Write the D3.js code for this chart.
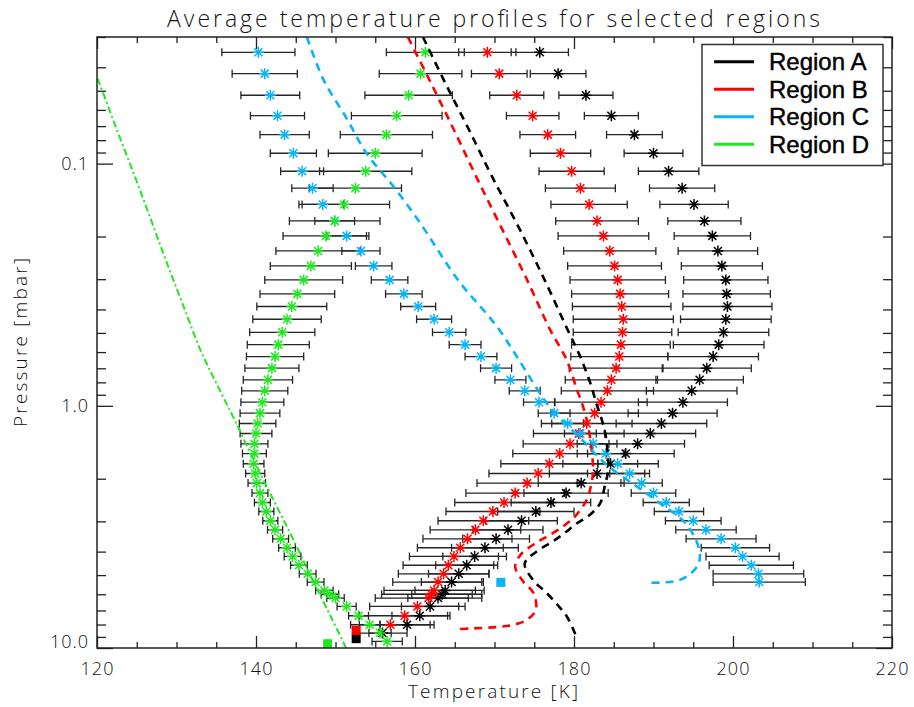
<!DOCTYPE html>
<html>
<head>
<meta charset="utf-8">
<script src="https://cdn.jsdelivr.net/npm/d3@7"></script>
<style>
  body { margin: 0; background: #fff; }
  svg { display: block; }
  .thin { font-family: "Open Sans", "DejaVu Sans", sans-serif; font-weight: 300; fill: #111; }
  .legend text { font-family: "Liberation Sans", Arial, sans-serif; font-size: 24px; fill: #000; stroke: #000; stroke-width: 0.45px; }
</style>
</head>
<body>
<div id="chart"></div>
<script>
// retrieval pressure grid [mbar]
const pressure = [0.0347, 0.0425, 0.0522, 0.0634, 0.0759, 0.0906, 0.1075, 0.1263, 0.1474, 0.1724,
  0.1988, 0.2293, 0.2644, 0.302, 0.345, 0.389, 0.439, 0.497, 0.559, 0.626,
  0.699, 0.781, 0.867, 0.966, 1.072, 1.183, 1.301, 1.435, 1.574, 1.735,
  1.903, 2.085, 2.293, 2.507, 2.731, 2.983, 3.25, 3.54, 3.856, 4.188,
  4.553, 4.938, 5.342, 5.786, 6.0, 6.221, 6.735, 7.359, 8.016, 8.673, 9.393];

const regions = ['Region A', 'Region B', 'Region C', 'Region D'];
const colors = ['#000000', '#ff0000', '#08b4f8', '#1fe81f'];

// retrieved temperatures [K] and 1-sigma errors
const tempA = [175.7, 178.0, 181.5, 184.7, 187.6, 190.0, 191.9, 193.6, 195.1, 196.4,
  197.4, 198.1, 198.6, 199.1, 199.2, 199.3, 199.1, 198.8, 198.2, 197.5,
  196.7, 195.8, 194.8, 193.7, 192.4, 191.0, 189.6, 188.0, 186.5, 184.6,
  182.9, 180.9, 179.0, 177.1, 175.2, 173.4, 171.7, 170.2, 168.8, 167.5,
  166.5, 165.5, 164.6, 163.8, 163.4, 162.9, 161.9, 160.6, 159.0, 155.9];
const errA = [3.6, 3.5, 3.4, 3.4, 3.5, 3.7, 3.8, 4.1, 4.3, 4.6,
  4.8, 5.0, 5.1, 5.3, 5.5, 5.6, 5.7, 5.7, 5.7, 5.7,
  5.6, 5.5, 5.7, 5.6, 5.6, 5.7, 5.7, 5.9, 6.1, 6.0,
  6.0, 5.4, 5.3, 5.0, 4.8, 4.5, 4.4, 4.2, 4.2, 4.0,
  3.9, 3.8, 3.8, 3.8, 3.8, 3.8, 3.6, 3.5, 3.4, 3.1];

const tempB = [169.1, 170.6, 172.8, 174.8, 176.7, 178.3, 179.7, 180.8, 181.9, 182.9,
  183.7, 184.5, 185.1, 185.5, 185.8, 186.0, 186.2, 186.1, 185.9, 185.7,
  185.3, 184.7, 184.2, 183.4, 182.6, 181.6, 180.6, 179.5, 178.2, 176.9,
  175.5, 174.1, 172.6, 171.2, 169.8, 168.6, 167.6, 166.6, 165.7, 164.9,
  164.2, 163.6, 162.9, 162.4, 162.1, 161.7, 160.3, 158.7, 156.9];
const errB = [3.6, 3.5, 3.4, 3.3, 3.5, 3.8, 4.1, 4.4, 4.8, 5.2,
  5.7, 5.8, 5.9, 6.0, 6.1, 6.2, 6.3, 6.2, 6.2, 6.1,
  5.9, 5.8, 5.8, 5.8, 5.5, 5.7, 5.7, 5.9, 5.9, 6.1,
  6.2, 6.3, 6.2, 6.2, 5.9, 5.7, 5.7, 5.6, 5.4, 5.6,
  5.7, 5.7, 5.7, 6.3, 6.3, 6.7, 6.0, 5.7, 5.0];

const tempC = [140.3, 141.1, 141.8, 142.7, 143.6, 144.7, 145.8, 147.1, 148.4, 149.9,
  151.4, 153.2, 154.8, 156.8, 158.6, 160.4, 162.4, 164.3, 166.3, 168.3,
  170.2, 172.0, 173.8, 175.6, 177.5, 179.2, 180.8, 182.4, 184.0, 185.5,
  187.0, 188.5, 190.0, 191.6, 193.2, 195.0, 196.6, 198.5, 200.3, 201.2,
  202.3, 203.2, 203.3];
const errC = [4.6, 4.1, 3.7, 3.4, 3.1, 2.9, 2.7, 2.6, 2.6, 2.5,
  2.5, 2.4, 2.3, 2.3, 2.3, 2.2, 2.2, 2.1, 2.0, 2.0,
  1.95, 1.95, 1.95, 1.95, 2.0, 2.0, 2.0, 2.0, 2.3, 2.5,
  2.5, 2.6, 2.8, 2.9, 3.1, 3.5, 3.8, 4.4, 4.3, 4.6,
  5.3, 5.7, 5.8];

const tempD = [161.3, 160.7, 159.2, 157.7, 156.4, 155.0, 153.8, 152.5, 151.1, 149.9,
  148.8, 147.8, 146.9, 146.0, 145.2, 144.5, 143.9, 143.3, 142.8, 142.4,
  142.0, 141.5, 141.1, 140.8, 140.5, 140.2, 140.0, 139.8, 139.8, 139.7,
  139.9, 140.1, 140.5, 140.8, 141.3, 141.8, 142.4, 143.1, 143.9, 144.6,
  145.4, 146.5, 147.5, 148.6, 149.3, 150.0, 151.4, 152.9, 154.3, 155.6,
  156.5];
const errD = [4.9, 5.2, 5.5, 5.7, 5.8, 5.9, 5.8, 5.8, 5.7, 5.7,
  5.4, 5.3, 5.1, 4.9, 4.7, 4.4, 4.3, 4.1, 3.9, 3.6,
  3.4, 3.1, 2.9, 2.7, 2.5, 2.3, 2.0, 1.7, 1.5, 1.3,
  1.2, 1.1, 1.0, 1.0, 0.95, 0.95, 0.95, 1.0, 1.05, 1.05,
  1.05, 1.05, 1.05, 1.1, 1.1, 1.1, 1.2, 1.25, 1.3, 1.4,
  1.9];

// reference (dashed) profiles
const refA_T = [161.0, 163.8, 166.8, 169.7, 173.0, 176.3, 179.2, 180.8, 181.6, 182.2, 182.8, 183.5, 184.0, 184.3, 183.9, 183.3, 182.0, 180.3, 178.7, 177.0, 175.3, 173.8, 175.0, 176.4, 177.8, 179.1, 180.1, 180.4];
const refA_P = [0.030, 0.0464, 0.0726, 0.1132, 0.182, 0.302, 0.4857, 0.628, 0.733, 0.8325, 0.975, 1.142, 1.339, 1.837, 2.119, 2.522, 2.818, 3.069, 3.375, 3.687, 3.993, 4.48, 5.31, 5.856, 6.564, 7.407, 8.673, 9.243];
const refB_T = [159.1, 162.0, 164.9, 167.7, 170.8, 174.1, 177.0, 178.9, 179.7, 180.3, 181.0, 181.6, 182.0, 182.4, 182.2, 181.6, 180.3, 178.9, 177.0, 175.2, 173.4, 172.6, 173.6, 174.9, 175.2, 174.1, 172.4, 170.3, 167.3, 165.0];
const refB_P = [0.030, 0.0464, 0.0726, 0.1132, 0.182, 0.302, 0.4857, 0.628, 0.733, 0.8454, 0.975, 1.142, 1.339, 1.837, 2.085, 2.444, 2.818, 3.099, 3.408, 3.687, 4.08, 4.604, 5.31, 5.928, 6.95, 7.643, 8.016, 8.193, 8.30, 8.364];
const refC_T = [146.4, 148.5, 151.4, 153.9, 157.3, 160.6, 165.4, 170.3, 173.2, 175.7, 177.4, 180.8, 184.1, 187.9, 190.8, 194.2, 195.8, 195.6, 194.2, 192.5, 189.3];
const refC_P = [0.030, 0.0451, 0.065, 0.0906, 0.1244, 0.1749, 0.302, 0.4707, 0.6565, 0.886, 1.056, 1.36, 1.752, 2.153, 2.522, 3.099, 3.993, 4.533, 5.064, 5.31, 5.379];
const refD_T = [117.9, 120.0, 122.35, 124.6, 126.8, 128.8, 130.9, 133.0, 135.0, 137.3, 139.9, 142.4, 144.7, 147.1, 149.6, 151.3, 151.5];
const refD_P = [0.030, 0.0439, 0.0704, 0.1095, 0.1708, 0.2578, 0.3893, 0.5873, 0.806, 1.142, 1.724, 2.522, 3.573, 5.226, 7.643, 9.97, 10.36];

// surface values
const surfaceT = [152.6, 152.6, 170.8, 149.0];
const surfaceP = [9.15, 8.46, 5.36, 9.6];

const xTickValues = [120, 140, 160, 180, 200, 220];
const yMajorValues = [0.1, 1, 10];
const yTickLabels = ['0.1', '1.0', '10.0'];

const width = 914, height = 707;
const margin = { left: 97, right: 892, top: 37, bottom: 648 };

const x = d3.scaleLinear().domain([120, 220]).range([margin.left, margin.right]);
const y = d3.scaleLog().domain([0.03, 10]).range([margin.top, margin.bottom]);

const svg = d3.select('#chart').append('svg')
  .attr('width', width)
  .attr('height', height);

svg.append('defs').append('clipPath').attr('id', 'plotClip')
  .append('rect')
    .attr('x', margin.left).attr('y', margin.top)
    .attr('width', margin.right - margin.left)
    .attr('height', margin.bottom - margin.top);

const profiles = [
  { T: tempA, E: errA, rT: refA_T, rP: refA_P, dash: '8,6' },
  { T: tempB, E: errB, rT: refB_T, rP: refB_P, dash: '8,6' },
  { T: tempC, E: errC, rT: refC_T, rP: refC_P, dash: '8,6' },
  { T: tempD, E: errD, rT: refD_T, rP: refD_P, dash: '7,3,2,3' }
].map((p, k) => ({
  ...p,
  name: regions[k],
  color: colors[k],
  levels: p.T.map((t, i) => ({ t, e: p.E[i], p: pressure[i] })),
  ref: p.rT.map((t, i) => ({ t, p: p.rP[i] })),
  surface: { t: surfaceT[k], p: surfaceP[k] }
}));

const plot = svg.append('g').attr('clip-path', 'url(#plotClip)');

// error bars
const barG = plot.append('g')
  .attr('fill', 'none')
  .attr('stroke', '#262626')
  .attr('stroke-width', 1.3);

profiles.forEach(prof => {
  barG.append('g').selectAll('path')
    .data(prof.levels)
    .enter().append('path')
      .attr('d', d => {
        const yy = y(d.p), x0 = x(d.t - d.e), x1 = x(d.t + d.e);
        return `M${x0},${yy}H${x1}M${x0},${yy - 4}V${yy + 4}M${x1},${yy - 4}V${yy + 4}`;
      });
});

// asterisks
const star = 'M0,-5.5V5.5M-5.5,0H5.5M-4,-4L4,4M-4,4L4,-4';
profiles.forEach(prof => {
  plot.append('g')
    .attr('stroke', prof.color)
    .attr('stroke-width', 1.5)
    .selectAll('path')
    .data(prof.levels)
    .enter().append('path')
      .attr('d', star)
      .attr('transform', d => `translate(${x(d.t)},${y(d.p)})`);
});

// reference profiles
const line = d3.line()
  .x(d => x(d.t))
  .y(d => y(d.p))
  .curve(d3.curveCatmullRom.alpha(0.5));
profiles.forEach((prof, k) => {
  plot.append('path')
    .datum(prof.ref)
    .attr('fill', 'none')
    .attr('stroke', prof.color)
    .attr('stroke-width', k === 3 ? 2 : 2.6)
    .attr('stroke-dasharray', prof.dash)
    .attr('d', line);
});

// surface squares
plot.append('g').selectAll('rect')
  .data(profiles)
  .enter().append('rect')
    .attr('x', d => x(d.surface.t) - 4.5)
    .attr('y', d => y(d.surface.p) - 4.5)
    .attr('width', 9)
    .attr('height', 9)
    .attr('fill', d => d.color);

// axes (ticks inward, IDL style)
const yMinor = [];
[0.01, 0.1, 1].forEach(dec => d3.range(2, 10).forEach(m => {
  const v = +(m * dec).toPrecision(3);
  if (v >= 0.03 && v <= 10) yMinor.push(v);
}));
const xMinor = d3.range(125, 220, 5).filter(v => v % 20 !== 0);

function styleAxis(g) {
  g.select('.domain').remove();
  g.selectAll('line').attr('stroke', '#222').attr('stroke-width', 1.3);
  g.selectAll('text').attr('class', 'thin').attr('font-size', 18).attr('fill', '#111');
}

svg.append('g').attr('transform', `translate(0,${margin.bottom})`)
  .call(d3.axisBottom(x).tickValues(xTickValues).tickSize(-12).tickPadding(14).tickFormat(d3.format('d')))
  .call(styleAxis)
  .call(g => g.selectAll('text').attr('letter-spacing', 1).attr('font-family', null));
svg.append('g').attr('transform', `translate(0,${margin.bottom})`)
  .call(d3.axisBottom(x).tickValues(xMinor).tickSize(-6).tickFormat(''))
  .call(styleAxis);
svg.append('g').attr('transform', `translate(0,${margin.top})`)
  .call(d3.axisTop(x).tickValues(xTickValues).tickSize(-12).tickFormat(''))
  .call(styleAxis);
svg.append('g').attr('transform', `translate(0,${margin.top})`)
  .call(d3.axisTop(x).tickValues(xMinor).tickSize(-6).tickFormat(''))
  .call(styleAxis);

svg.append('g').attr('transform', `translate(${margin.left},0)`)
  .call(d3.axisLeft(y).tickValues(yMajorValues).tickSize(-16).tickPadding(8)
    .tickFormat((d, i) => yTickLabels[i]))
  .call(styleAxis)
  .call(g => g.selectAll('text').attr('letter-spacing', 1)
    .attr('dy', (d, i) => i === 2 ? '-0.02em' : '0.32em'));
svg.append('g').attr('transform', `translate(${margin.left},0)`)
  .call(d3.axisLeft(y).tickValues(yMinor).tickSize(-9).tickFormat(''))
  .call(styleAxis);
svg.append('g').attr('transform', `translate(${margin.right},0)`)
  .call(d3.axisRight(y).tickValues(yMajorValues).tickSize(-16).tickFormat(''))
  .call(styleAxis);
svg.append('g').attr('transform', `translate(${margin.right},0)`)
  .call(d3.axisRight(y).tickValues(yMinor).tickSize(-9).tickFormat(''))
  .call(styleAxis);

// frame
svg.append('rect')
  .attr('x', margin.left).attr('y', margin.top)
  .attr('width', margin.right - margin.left)
  .attr('height', margin.bottom - margin.top)
  .attr('fill', 'none').attr('stroke', '#222').attr('stroke-width', 1.5);

// titles
svg.append('text').attr('class', 'thin')
  .attr('x', 167).attr('y', 26.5)
  .attr('font-size', 23)
  .attr('textLength', 653).attr('lengthAdjust', 'spacing')
  .text('Average temperature profiles for selected regions');

svg.append('text').attr('class', 'thin')
  .attr('x', 408).attr('y', 698)
  .attr('font-size', 19)
  .attr('textLength', 170).attr('lengthAdjust', 'spacing')
  .text('Temperature [K]');

svg.append('text').attr('class', 'thin')
  .attr('transform', 'translate(27,427) rotate(-90)')
  .attr('font-size', 19)
  .attr('textLength', 169).attr('lengthAdjust', 'spacing')
  .text('Pressure [mbar]');

// legend
const legend = svg.append('g').attr('class', 'legend');
legend.append('rect')
  .attr('x', 702).attr('y', 44.5)
  .attr('width', 181).attr('height', 121)
  .attr('fill', '#fff').attr('stroke', '#333').attr('stroke-width', 1.5);

const legendRow = legend.selectAll('g.row')
  .data(profiles)
  .enter().append('g')
    .attr('class', 'row')
    .attr('transform', (d, i) => `translate(0,${61.7 + i * 27.5})`);
legendRow.append('line')
  .attr('x1', 714).attr('x2', 754)
  .attr('stroke', d => d.color).attr('stroke-width', 3);
legendRow.append('text')
  .attr('x', 769).attr('y', 8.5)
  .text(d => d.name);
</script>
</body>
</html>
